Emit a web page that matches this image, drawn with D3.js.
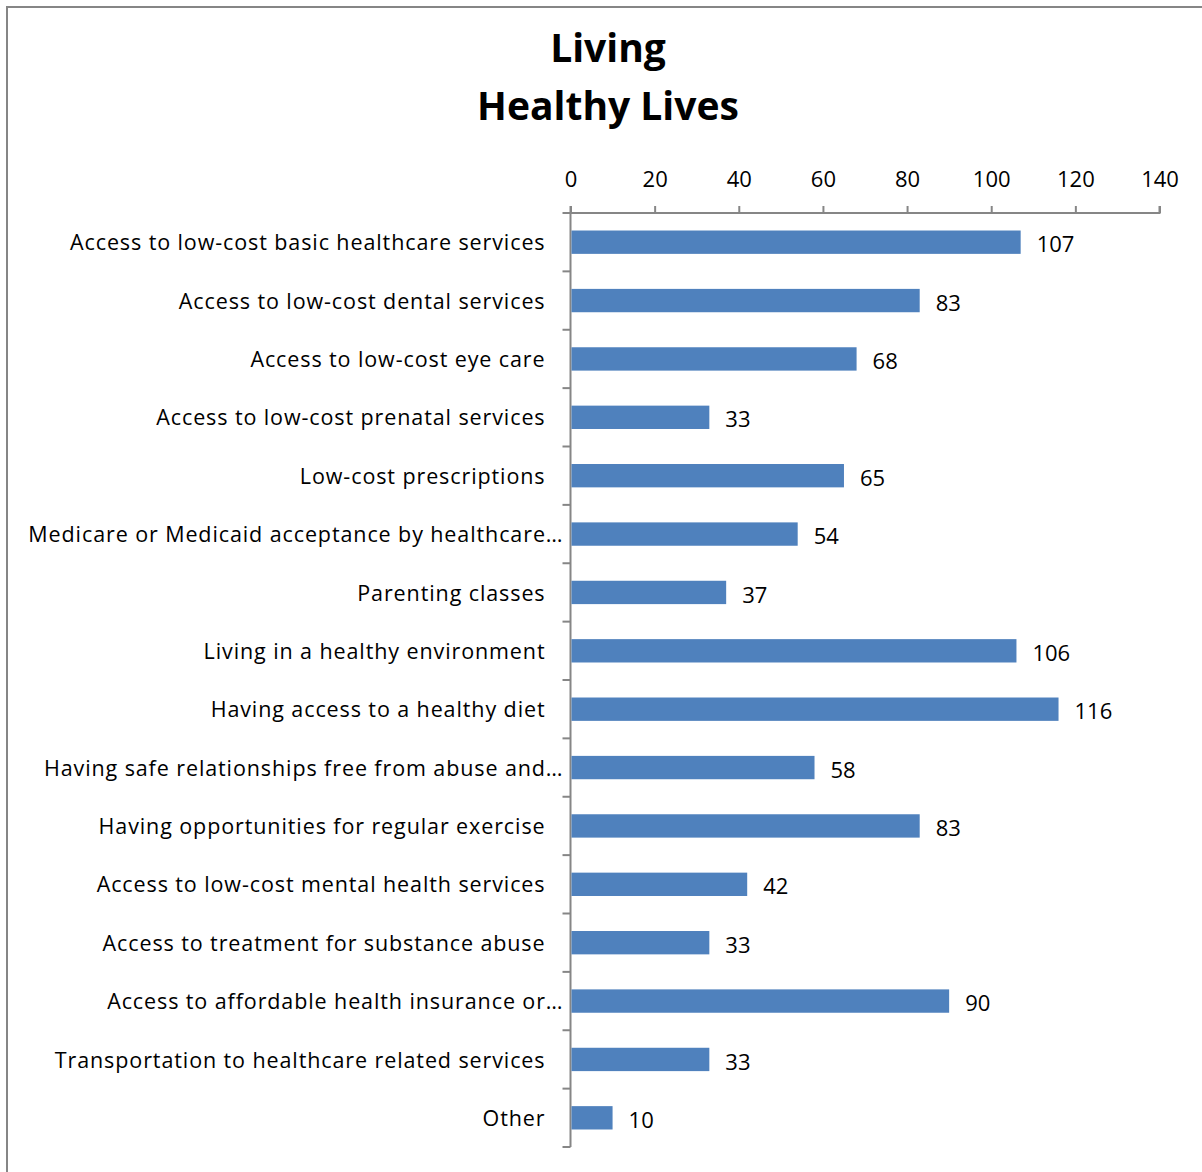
<!DOCTYPE html>
<html>
<head>
<meta charset="utf-8">
<script src="https://cdn.jsdelivr.net/npm/d3@7"></script>
<style>
  html, body { margin: 0; padding: 0; background: #fff; }
  svg text { font-family: "Open Sans", "Noto Sans", sans-serif; fill: #000; }
</style>
</head>
<body>
<svg id="chart" width="1202" height="1172"></svg>
<script>
// Survey responses: "Living Healthy Lives"
const categories = [
  "Access to low-cost basic healthcare services",
  "Access to low-cost dental services",
  "Access to low-cost eye care",
  "Access to low-cost prenatal services",
  "Low-cost prescriptions",
  "Medicare or Medicaid acceptance by healthcare…",
  "Parenting classes",
  "Living in a healthy environment",
  "Having access to a healthy diet",
  "Having safe relationships free from abuse and…",
  "Having opportunities for regular exercise",
  "Access to low-cost mental health services",
  "Access to treatment for substance abuse",
  "Access to affordable health insurance or…",
  "Transportation to healthcare related services",
  "Other"
];
const values = [107, 83, 68, 33, 65, 54, 37, 106, 116, 58, 83, 42, 33, 90, 33, 10];
const xTicks = [0, 20, 40, 60, 80, 100, 120, 140];
const titleLines = ["Living", "Healthy Lives"];

const svg = d3.select("#chart");
const W = 1202, H = 1172;

// chart area outline
svg.append("rect")
  .attr("x", 7).attr("y", 7)
  .attr("width", W + 10).attr("height", H + 10)
  .attr("fill", "#fff")
  .attr("stroke", "#868686")
  .attr("stroke-width", 2);

const plot = { left: 570.5, right: 1159.5, top: 213, bottom: 1147 };

const x = d3.scaleLinear().domain([0, 140]).range([plot.left, plot.right]);
const y = d3.scaleBand().domain(categories).range([plot.top, plot.bottom]).paddingInner(0.6).paddingOuter(0.3);

// title
svg.append("g").selectAll("text")
  .data(titleLines)
  .join("text")
  .attr("x", 608)
  .attr("y", (d, i) => 62 + i * 58)
  .attr("text-anchor", "middle")
  .attr("font-size", 39)
  .attr("font-weight", "bold")
  .text(d => d);

// top value axis
const xAxis = d3.axisTop(x).tickValues(xTicks).tickSize(7).tickSizeOuter(7).tickPadding(19);
const gx = svg.append("g").attr("transform", `translate(0,${plot.top})`).call(xAxis);
gx.select(".domain").attr("stroke", "#868686").attr("stroke-width", 2)
  .attr("d", `M${plot.left},${-7}V0H${plot.right}V${-7}`);
gx.selectAll(".tick line").attr("stroke", "#868686").attr("stroke-width", 2);
gx.selectAll(".tick text").attr("font-size", 22).attr("font-family", '"Open Sans", sans-serif').attr("fill", "#000");

// left category axis: separators between bands
const bandStep = (plot.bottom - plot.top) / categories.length;
const sepIdx = d3.range(categories.length + 1);
const gy = svg.append("g");
gy.append("line")
  .attr("x1", plot.left).attr("x2", plot.left)
  .attr("y1", plot.top).attr("y2", plot.bottom)
  .attr("stroke", "#868686").attr("stroke-width", 2);
gy.selectAll("line.sep")
  .data(sepIdx)
  .join("line")
  .attr("class", "sep")
  .attr("x1", plot.left - 8).attr("x2", plot.left)
  .attr("y1", i => plot.top + i * bandStep)
  .attr("y2", i => plot.top + i * bandStep)
  .attr("stroke", "#868686").attr("stroke-width", 2);

// category labels
gy.selectAll("text")
  .data(categories)
  .join("text")
  .attr("x", d => d.endsWith("…") ? plot.left - 7 : plot.left - 25)
  .attr("y", d => y(d) + y.bandwidth() / 2)
  .attr("dy", "0.38em")
  .attr("text-anchor", "end")
  .attr("font-size", 21.5)
  .attr("letter-spacing", 0.9)
  .text(d => d);

// bars
const bars = svg.append("g");
bars.selectAll("rect")
  .data(values)
  .join("rect")
  .attr("x", x(0) + 1)
  .attr("y", (d, i) => y(categories[i]))
  .attr("width", d => x(d) - x(0) - 1)
  .attr("height", y.bandwidth())
  .attr("fill", "#4F81BD");

// value labels
bars.selectAll("text")
  .data(values)
  .join("text")
  .attr("x", d => x(d) + 16)
  .attr("y", (d, i) => y(categories[i]) + y.bandwidth() / 2)
  .attr("dy", "0.46em")
  .attr("font-size", 22)
  .text(d => d);
</script>
</body>
</html>
